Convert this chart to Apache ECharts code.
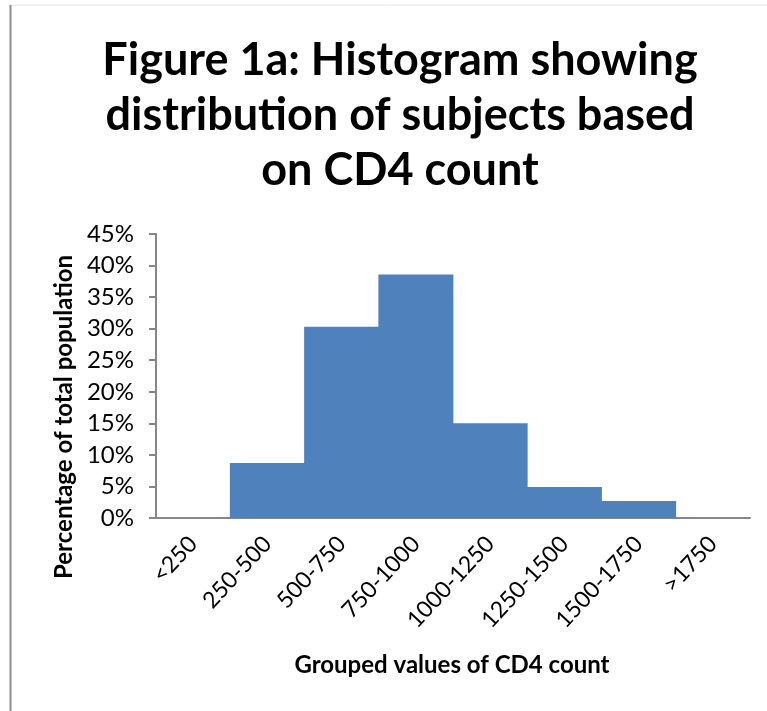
<!DOCTYPE html>
<html>
<head>
<meta charset="utf-8">
<script src="https://cdn.jsdelivr.net/npm/echarts@6/dist/echarts.min.js"></script>
<style>
  html, body { margin: 0; padding: 0; background: #ffffff; }
  #chart { width: 767px; height: 711px; }
</style>
</head>
<body>
<div id="chart"></div>
<script>
// CD4 count groups and share of subjects in each (%)
const cd4Groups = ['<250', '250-500', '500-750', '750-1000', '1000-1250', '1250-1500', '1500-1750', '>1750'];
const percentSubjects = [0, 8.7, 30.3, 38.6, 15.0, 4.9, 2.7, 0];

const titleLines = ['Figure 1a: Histogram showing', 'distribution of subjects based', 'on CD4 count'];
const xAxisTitle = 'Grouped values of CD4 count';
const yAxisTitle = 'Percentage of total population';

const FONT = 'Lato, "Open Sans", sans-serif';
const AXIS_GREY = '#868686';
const BAR_BLUE = '#4F81BD';

const chart = echarts.init(document.getElementById('chart'), null, { renderer: 'canvas' });

chart.setOption({
  backgroundColor: '#ffffff',
  animation: false,
  title: {
    text: titleLines.join('\n'),
    left: 395,
    top: 28,
    textAlign: 'center',
    textStyle: {
      fontFamily: FONT,
      fontWeight: 'bold',
      fontSize: 45,
      lineHeight: 55,
      color: '#000000'
    }
  },
  grid: {
    left: 156,
    right: 17,
    top: 234,
    bottom: 193,
    containLabel: false
  },
  xAxis: {
    type: 'category',
    data: cd4Groups,
    axisLine: { show: true, lineStyle: { color: AXIS_GREY, width: 2 } },
    axisTick: { show: false },
    axisLabel: {
      rotate: 47,
      margin: 22,
      interval: 0,
      fontFamily: FONT,
      fontSize: 23,
      color: '#000000'
    },
    splitLine: { show: false }
  },
  yAxis: {
    type: 'value',
    min: 0,
    max: 45,
    interval: 5,
    axisLine: { show: true, lineStyle: { color: AXIS_GREY, width: 2 } },
    axisTick: { show: true, inside: false, length: 7, lineStyle: { color: AXIS_GREY, width: 2 } },
    axisLabel: {
      formatter: '{value}%',
      margin: 22,
      fontFamily: FONT,
      fontSize: 24,
      color: '#000000'
    },
    splitLine: { show: false }
  },
  series: [{
    type: 'bar',
    data: percentSubjects,
    // slightly wider than the band so adjacent bars join without seams
    barWidth: '101%',
    barCategoryGap: '0%',
    itemStyle: { color: BAR_BLUE }
  }],
  graphic: [
    {
      type: 'text',
      x: 452,
      y: 665,
      style: {
        text: xAxisTitle,
        fontFamily: FONT,
        fontWeight: 'bold',
        fontSize: 24,
        fill: '#000000',
        align: 'center',
        verticalAlign: 'middle'
      }
    },
    {
      type: 'text',
      x: 64,
      y: 417,
      rotation: Math.PI / 2,
      style: {
        text: yAxisTitle,
        fontFamily: FONT,
        fontWeight: 'bold',
        fontSize: 24,
        fill: '#000000',
        align: 'center',
        verticalAlign: 'middle'
      }
    },
    {
      type: 'line',
      shape: { x1: 10, y1: 5, x2: 767, y2: 5 },
      style: { stroke: '#e6e6e6', lineWidth: 1 }
    },
    {
      type: 'line',
      shape: { x1: 10.5, y1: 5, x2: 10.5, y2: 711 },
      style: { stroke: '#8c8c8c', lineWidth: 2 }
    }
  ]
});
</script>
</body>
</html>
